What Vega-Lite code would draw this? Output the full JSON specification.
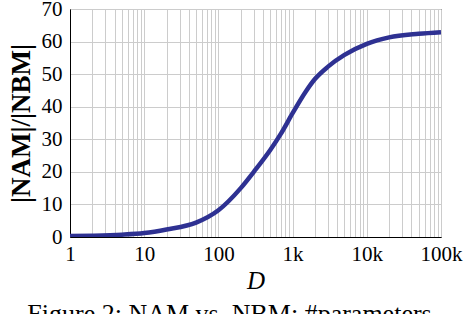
{
  "$schema": "https://vega.github.io/schema/vega-lite/v6.json",
  "width": 371,
  "height": 228,
  "autosize": "none",
  "padding": {"left": 70, "top": 9, "right": 27, "bottom": 77},
  "background": "white",
  "config": {
    "view": {"stroke": "black", "strokeWidth": 1},
    "font": "Liberation Serif"
  },
  "title": {
    "text": "Figure 2:  NAM vs. NBM: #parameters",
    "orient": "bottom",
    "anchor": "middle",
    "font": "Liberation Serif",
    "fontSize": 26,
    "fontWeight": "normal",
    "color": "black",
    "offset": 8,
    "dx": -26
  },
  "data": {
    "values": [
      {"D": 1, "ratio": 0.3},
      {"D": 2, "ratio": 0.4},
      {"D": 5, "ratio": 0.7},
      {"D": 10, "ratio": 1.2},
      {"D": 20, "ratio": 2.3},
      {"D": 50, "ratio": 4.4},
      {"D": 100, "ratio": 8.2},
      {"D": 200, "ratio": 15},
      {"D": 300, "ratio": 20},
      {"D": 500, "ratio": 26.7},
      {"D": 700, "ratio": 31.8},
      {"D": 1000, "ratio": 38},
      {"D": 1500, "ratio": 44.6},
      {"D": 2000, "ratio": 48.5},
      {"D": 3000, "ratio": 52.3},
      {"D": 5000, "ratio": 55.9},
      {"D": 10000, "ratio": 59.3},
      {"D": 20000, "ratio": 61.3},
      {"D": 50000, "ratio": 62.4},
      {"D": 100000, "ratio": 62.9}
    ]
  },
  "mark": {"type": "line", "color": "#2e3192", "strokeWidth": 4.5, "interpolate": "monotone", "clip": true},
  "encoding": {
    "x": {
      "field": "D",
      "type": "quantitative",
      "scale": {"type": "log", "domain": [1, 100000], "nice": false},
      "axis": {
        "title": "D",
        "titleFont": "Liberation Serif",
        "titleFontStyle": "italic",
        "titleFontWeight": "normal",
        "titleFontSize": 25,
        "titleColor": "black",
        "titlePadding": 4,
        "values": [1,2,3,4,5,6,7,8,9,10,20,30,40,50,60,70,80,90,100,200,300,400,500,600,700,800,900,1000,2000,3000,4000,5000,6000,7000,8000,9000,10000,20000,30000,40000,50000,60000,70000,80000,90000,100000],
        "labelExpr": "datum.value == 1 ? '1' : datum.value == 10 ? '10' : datum.value == 100 ? '100' : datum.value == 1000 ? '1k' : datum.value == 10000 ? '10k' : datum.value == 100000 ? '100k' : ''",
        "labelFont": "Liberation Serif",
        "labelFontSize": 21,
        "labelColor": "black",
        "labelPadding": 6,
        "labelFlush": false,
        "labelOverlap": false,
        "labelBound": false,
        "ticks": false,
        "domainColor": "black",
        "gridColor": "#cccccc",
        "gridWidth": 1,
        "gridOpacity": 1
      }
    },
    "y": {
      "field": "ratio",
      "type": "quantitative",
      "scale": {"domain": [0, 70], "nice": false},
      "axis": {
        "title": "|NAM|/|NBM|",
        "titleFont": "Liberation Serif",
        "titleFontWeight": "bold",
        "titleFontSize": 27,
        "titleColor": "black",
        "titlePadding": 6,
        "values": [0, 10, 20, 30, 40, 50, 60, 70],
        "labelFont": "Liberation Serif",
        "labelFontSize": 21,
        "labelColor": "black",
        "labelPadding": 8,
        "labelFlush": false,
        "labelOverlap": false,
        "ticks": false,
        "domainColor": "black",
        "gridColor": "#cccccc",
        "gridWidth": 1,
        "gridOpacity": 1
      }
    }
  }
}
